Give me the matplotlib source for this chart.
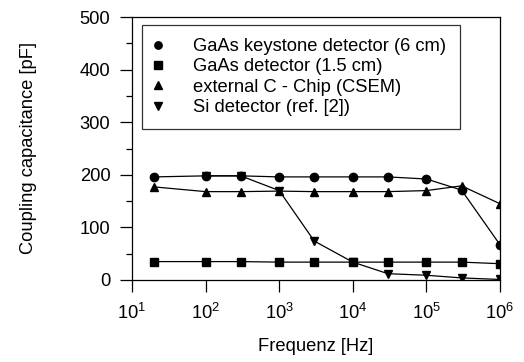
import matplotlib
matplotlib.use("Agg")
import matplotlib.pyplot as plt

plt.rcParams['font.family'] = ['Liberation Sans', 'DejaVu Sans']
plt.rcParams['mathtext.fontset'] = 'custom'
plt.rcParams['mathtext.rm'] = 'Liberation Sans'
plt.rcParams['mathtext.it'] = 'Liberation Sans:italic'
plt.rcParams['mathtext.bf'] = 'Liberation Sans:bold'

freq = [20, 100, 300, 1000, 3000, 1e4, 3e4, 1e5, 3e5, 1e6]
gaas_keystone = [196, 198, 198, 196, 196, 196, 196, 192, 171, 67]
gaas_detector = [35, 35, 35, 34, 34, 34, 34, 34, 34, 31]
external_c = [177, 168, 168, 169, 168, 168, 168, 170, 179, 145]
si_freq = [100, 300, 1000, 3000, 1e4, 3e4, 1e5, 3e5, 1e6]
si_detector = [198, 198, 170, 74, 34, 12, 9, 4, 1]

labels = ["GaAs keystone detector (6 cm)", "GaAs detector (1.5 cm)",
          "external C - Chip (CSEM)", "Si detector (ref. [2])"]
yticks = [0, 100, 200, 300, 400, 500]

fig = plt.figure(figsize=(5.24, 3.62), dpi=100)
ax = fig.add_axes([132/524, 1-280/362, (500-132)/524, (280-17)/362])

fs = 13.2
ms = 6
kw = dict(color='black', lw=0.9, markersize=ms)
ax.plot(freq, gaas_keystone, marker='o', **kw)
ax.plot(freq, gaas_detector, marker='s', **kw)
ax.plot(freq, external_c, marker='^', **kw)
ax.plot(si_freq, si_detector, marker='v', **kw)

ax.set_xscale('log')
ax.set_xlim(10, 1e6)
ax.set_ylim(0, 500)
ax.set_yticks(yticks)
ax.set_yticks(range(50, 500, 100), minor=True)
ax.xaxis.set_minor_locator(matplotlib.ticker.NullLocator())
ax.tick_params(which='major', direction='out', length=8.6, width=0.9, labelsize=fs)
ax.tick_params(axis='y', which='major', pad=7)
ax.tick_params(axis='x', which='major', pad=8)
ax.tick_params(which='minor', direction='out', length=4, width=0.9)
for s in ax.spines.values():
    s.set_linewidth(0.9)

ax.set_xlabel("Frequenz [Hz]", fontsize=fs, labelpad=11)
ax.set_ylabel("Coupling capacitance [pF]", fontsize=fs, labelpad=31)

handles = [plt.Line2D([], [], color='black', marker=m, linestyle='none', markersize=5.3)
           for m in ['o', 's', '^', 'v']]
leg = ax.legend(handles, labels, loc='upper left', bbox_to_anchor=(0.027, 0.97),
                fontsize=fs, frameon=True, fancybox=False, handlelength=0.3,
                handletextpad=1.78, labelspacing=0.18, borderpad=0.72,
                borderaxespad=0)
leg.get_frame().set_edgecolor('black')
leg.get_frame().set_linewidth(0.9)

fig.savefig("out.png", dpi=100)
